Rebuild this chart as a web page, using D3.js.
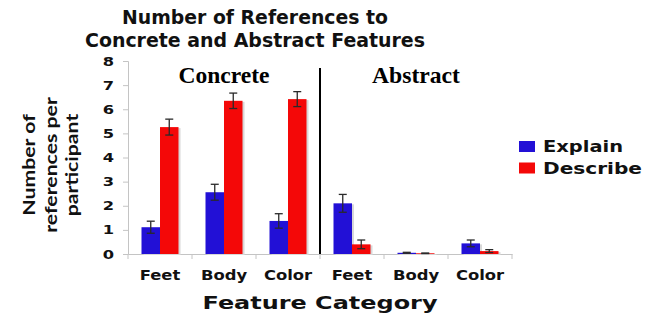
<!DOCTYPE html>
<html>
<head>
<meta charset="utf-8">
<script src="https://cdn.jsdelivr.net/npm/d3@7"></script>
<style>
  body { margin: 0; background: white; }
  text { font-family: 'DejaVu Sans', Verdana, sans-serif; font-weight: bold; }
</style>
</head>
<body>
<div id="chart"></div>
<script>
// data
let categories = ['Feet', 'Body', 'Color', 'Feet', 'Body', 'Color'];
let groups = ['Concrete', 'Abstract'];
let seriesNames = ['Explain', 'Describe'];
let explainVals = [1.11, 2.56, 1.37, 2.1, 0.05, 0.44];
let explainErr = [0.25, 0.33, 0.3, 0.37, 0.02, 0.14];
let describeVals = [5.26, 6.35, 6.42, 0.4, 0.03, 0.12];
let describeErr = [0.33, 0.32, 0.31, 0.18, 0.01, 0.06];
let yTicks = [0, 1, 2, 3, 4, 5, 6, 7, 8];

let width = 654;
let height = 315;
let colors = ['#2210d6', '#f40808'];
let sans = "'DejaVu Sans', Verdana, sans-serif";

let svg = d3.select('#chart')
    .append('svg')
    .attr('width', width)
    .attr('height', height);

// the original picture is a bit stretched sideways, so widen the text
function stretch(sel, f) {
    sel.each(function () {
        let w = this.getComputedTextLength();
        d3.select(this)
            .attr('textLength', w * f)
            .attr('lengthAdjust', 'spacingAndGlyphs');
    });
}

let xScale = d3.scaleBand()
    .domain(d3.range(categories.length))
    .range([128, 512]);

let yScale = d3.scaleLinear()
    .domain([0, 8])
    .range([254, 61]);

let sub = d3.scaleBand()
    .domain(seriesNames)
    .range([0, 37]);

let rows = categories.map((c, i) => ({
    i: i,
    vals: [
        {s: 'Explain', v: explainVals[i], e: explainErr[i], c: colors[0]},
        {s: 'Describe', v: describeVals[i], e: describeErr[i], c: colors[1]}
    ]
}));

// title
svg.selectAll('.title')
    .data(['Number of References to', 'Concrete and Abstract Features'])
    .enter()
    .append('text')
    .attr('class', 'title')
    .attr('x', 255)
    .attr('y', (d, i) => 24 + i * 23)
    .attr('text-anchor', 'middle')
    .attr('font-size', 19)
    .attr('fill', '#111')
    .attr('textLength', (d, i) => [266, 340][i])
    .attr('lengthAdjust', 'spacingAndGlyphs')
    .text(d => d);

// y axis
let yAxis = d3.axisLeft(yScale).tickValues(yTicks).tickSize(5).tickPadding(9);
let yG = svg.append('g')
    .attr('transform', 'translate(128,0)')
    .call(yAxis);
yG.select('.domain').attr('stroke', '#c4c4c4');
yG.selectAll('.tick line').attr('stroke', '#c4c4c4');
yG.selectAll('.tick text')
    .attr('font-size', 12.5)
    .attr('fill', '#111')
    .attr('font-family', sans)
    .attr('font-weight', 'bold')
    .call(stretch, 1.3);

// x axis
let xAxis = d3.axisBottom(xScale).tickFormat(i => categories[i]).tickSize(0).tickPadding(16);
let xG = svg.append('g')
    .attr('transform', 'translate(0,254)')
    .call(xAxis);
xG.select('.domain').attr('stroke', '#c4c4c4');
xG.selectAll('.tick text')
    .attr('font-size', 14)
    .attr('fill', '#111')
    .attr('font-family', sans)
    .attr('font-weight', 'bold')
    .call(stretch, 1.17);
xG.selectAll('.sep')
    .data(d3.range(categories.length + 1))
    .enter()
    .append('line')
    .attr('x1', i => 128 + i * xScale.bandwidth())
    .attr('x2', i => 128 + i * xScale.bandwidth())
    .attr('y1', 0)
    .attr('y2', 5)
    .attr('stroke', '#c4c4c4');

// bars
let barG = svg.selectAll('.cat')
    .data(rows)
    .enter()
    .append('g')
    .attr('transform', d => `translate(${xScale(d.i) + (xScale.bandwidth() - 37) / 2},0)`);

// soft shadow like the original
barG.selectAll('.shadow')
    .data(d => d.vals)
    .enter()
    .append('rect')
    .attr('x', d => sub(d.s) + 2)
    .attr('y', d => yScale(d.v) + 1)
    .attr('width', sub.bandwidth())
    .attr('height', d => yScale(0) - yScale(d.v))
    .attr('fill', '#d8d8d8');

barG.selectAll('.bar')
    .data(d => d.vals)
    .enter()
    .append('rect')
    .attr('x', d => sub(d.s))
    .attr('y', d => yScale(d.v))
    .attr('width', sub.bandwidth())
    .attr('height', d => yScale(0) - yScale(d.v))
    .attr('fill', d => d.c);

// error bars
let errG = barG.selectAll('.err')
    .data(d => d.vals)
    .enter()
    .append('g')
    .attr('stroke', '#2a2a2a')
    .attr('stroke-width', 1.3);
errG.append('line')
    .attr('x1', d => sub(d.s) + sub.bandwidth() / 2)
    .attr('x2', d => sub(d.s) + sub.bandwidth() / 2)
    .attr('y1', d => yScale(d.v - d.e))
    .attr('y2', d => yScale(d.v + d.e));
errG.append('line')
    .attr('x1', d => sub(d.s) + sub.bandwidth() / 2 - 4)
    .attr('x2', d => sub(d.s) + sub.bandwidth() / 2 + 4)
    .attr('y1', d => yScale(d.v + d.e))
    .attr('y2', d => yScale(d.v + d.e));
errG.append('line')
    .attr('x1', d => sub(d.s) + sub.bandwidth() / 2 - 4)
    .attr('x2', d => sub(d.s) + sub.bandwidth() / 2 + 4)
    .attr('y1', d => yScale(d.v - d.e))
    .attr('y2', d => yScale(d.v - d.e));

// divider between groups
svg.append('line')
    .attr('x1', xScale(3))
    .attr('x2', xScale(3))
    .attr('y1', 68)
    .attr('y2', 254)
    .attr('stroke', '#000')
    .attr('stroke-width', 2);

// group labels
svg.selectAll('.grp')
    .data(groups)
    .enter()
    .append('text')
    .attr('x', (d, i) => xScale(i * 3) + xScale.bandwidth() * 1.5)
    .attr('y', 83)
    .attr('text-anchor', 'middle')
    .style('font-family', "'Liberation Serif', 'Times New Roman', serif")
    .attr('font-size', 22.5)
    .attr('fill', '#000')
    .attr('textLength', (d, i) => [91, 88][i])
    .attr('lengthAdjust', 'spacingAndGlyphs')
    .text(d => d);

// y title
svg.selectAll('.ytitle')
    .data(['Number of', 'references per', 'participant'])
    .enter()
    .append('text')
    .attr('transform', (d, i) => `translate(${35 + i * 21.5},165) rotate(-90)`)
    .attr('text-anchor', 'middle')
    .style('font-family', "Lato, 'Open Sans', sans-serif")
    .attr('font-size', 17)
    .attr('fill', '#111')
    .text(d => d)
    .call(stretch, 1.25);

// x title
svg.append('text')
    .attr('x', 320)
    .attr('y', 309)
    .attr('text-anchor', 'middle')
    .attr('font-size', 17.5)
    .attr('fill', '#111')
    .attr('textLength', 235)
    .attr('lengthAdjust', 'spacingAndGlyphs')
    .text('Feature Category');

// legend
let legend = svg.selectAll('.leg')
    .data(seriesNames)
    .enter()
    .append('g')
    .attr('transform', (d, i) => `translate(519,${141 + i * 21.5})`);
legend.append('rect')
    .attr('width', 16)
    .attr('height', 11)
    .attr('fill', (d, i) => colors[i]);
legend.append('text')
    .attr('x', 24)
    .attr('y', 11)
    .attr('font-size', 15.5)
    .attr('fill', '#111')
    .attr('textLength', (d, i) => [80, 99][i])
    .attr('lengthAdjust', 'spacingAndGlyphs')
    .text(d => d);
</script>
</body>
</html>
